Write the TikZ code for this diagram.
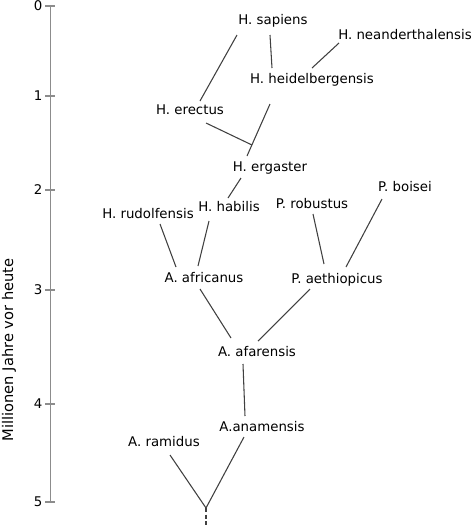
\documentclass[tikz,border=0pt]{standalone}
\usepackage{fontspec}
\setmainfont{DejaVu Sans}
\usetikzlibrary{calc}

\begin{document}
\begin{tikzpicture}[x=0.75pt,y=-0.75pt,
  taxon/.style={font=\fontsize{10}{12}\selectfont,inner sep=1pt},
  branch/.style={black!75,line width=0.8pt},
  axis/.style={black!45,line width=1pt}]
\useasboundingbox (0,0) rectangle (474,526);
\draw[axis] (50.5,6)--(50.5,502);
\foreach \y/\t in {6/0,96/1,190/2,290/3,404/4,502/5}{
  \draw[axis] (45,\y)--(55,\y);
  \node[taxon,anchor=east] at (44,\y){\t};
}
\node[rotate=90,font=\fontsize{11}{13}\selectfont] (lab) at (9,350){Millionen Jahre vor heute};
\node[taxon] (sap) at (273,21){H. sapiens};
\node[taxon] (nea) at (405,35){H. neanderthalensis};
\node[taxon] (hei) at (312,80){H. heidelbergensis};
\node[taxon] (ere) at (190,110){H. erectus};
\node[taxon] (erg) at (270,168){H. ergaster};
\node[taxon] (boi) at (405,187){P. boisei};
\node[taxon] (rud) at (148,214){H. rudolfensis};
\node[taxon] (hab) at (229,207){H. habilis};
\node[taxon] (rob) at (312,204){P. robustus};
\node[taxon] (afr) at (204,278){A. africanus};
\node[taxon] (aet) at (337,280){P. aethiopicus};
\node[taxon] (afa) at (257,352){A. afarensis};
\node[taxon] (ana) at (262,427){A.anamensis};
\node[taxon] (ram) at (164,442){A. ramidus};
\coordinate (hj) at (252,145);
\coordinate (root) at (206,508);
\coordinate (base) at (206,526);
\draw[branch] ($(sap)+(-36,14)$)--($(ere)+(10,-9)$);
\draw[branch] ($(sap)+(-3,14)$)--($(hei)+(-40,-12)$);
\draw[branch] ($(nea)+(-66,8)$)--($(hei)+(0,-12)$);
\draw[branch] ($(hei)+(-42,24)$)--($(erg)+(-23,-12)$);
\draw[branch] ($(ere)+(16,13)$)--(hj);
\draw[branch] ($(erg)+(-29,10)$)--($(hab)+(-1,-9)$);
\draw[branch] ($(rud)+(12,10)$)--($(afr)+(-28,-11)$);
\draw[branch] ($(hab)+(-20,14)$)--($(afr)+(-6,-12)$);
\draw[branch] ($(rob)+(1,10)$)--($(aet)+(-13,-16)$);
\draw[branch] ($(boi)+(-23,12)$)--($(aet)+(9,-13)$);
\draw[branch] ($(afr)+(-4,11)$)--($(afa)+(-26,-14)$);
\draw[branch] ($(aet)+(-27,9)$)--($(afa)+(1,-11)$);
\draw[branch] ($(afa)+(-14,12)$)--($(ana)+(-17,-11)$);
\draw[branch] ($(ram)+(6,13)$)--(root);
\draw[branch] ($(ana)+(-18,10)$)--(root);
\draw[branch,dash pattern=on 3pt off 2pt] (root)--(base);
\end{tikzpicture}
\end{document}
